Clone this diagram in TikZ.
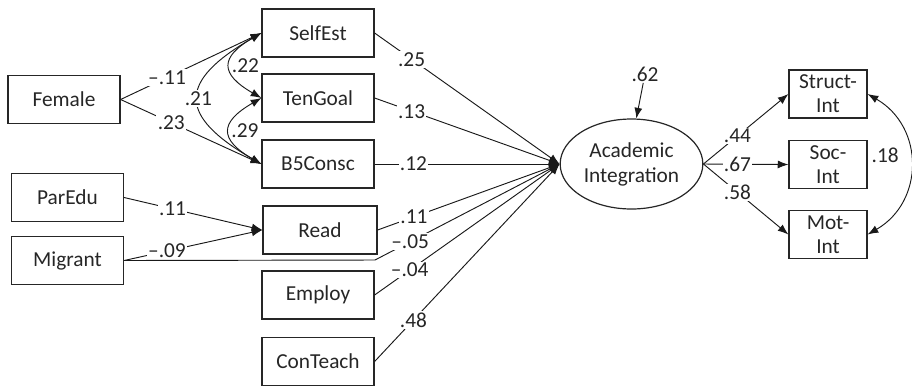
\documentclass[tikz,border=0pt]{standalone}
\usepackage{fontspec}
\setmainfont{Carlito}
\usetikzlibrary{arrows.meta,shapes.geometric}
\begin{document}
\begin{tikzpicture}[x=0.75pt,y=0.75pt,
  every node/.style={text=black!85},
  font=\fontsize{16}{18}\selectfont,
  box/.style={draw=black!85, line width=0.9pt, minimum height=36pt, inner sep=1pt, align=center},
  wbox/.style={box, minimum width=84pt},
  nbox/.style={box, minimum width=58.5pt},
  lat/.style={ellipse, draw=black!85, line width=0.9pt, minimum width=107pt, minimum height=67.5pt, inner sep=0pt, align=center, font=\fontsize{16}{18.75}\selectfont},
  conn/.style={draw=black!90, line width=0.7pt, -{Latex[length=8pt,width=6pt]}},
  corr/.style={draw=black!90, line width=0.7pt, {Latex[length=8pt,width=6pt]}-{Latex[length=8pt,width=6pt]}},
  lab/.style={fill=white, inner sep=1pt}
]
\useasboundingbox (0,0) rectangle (912,-387);

% exogenous boxes
\node[wbox] (fem)  at (64,-99.5)   {Female};
\node[wbox] (par)  at (67.5,-197.5) {ParEdu};
\node[wbox] (mig)  at (67.5,-260.5) {Migrant};

% mediators / predictors
\node[wbox] (self) at (318,-33)    {SelfEst};
\node[wbox] (ten)  at (318,-98)    {TenGoal};
\node[wbox] (b5)   at (318,-164)   {B5Consc};
\node[wbox, minimum width=85.5pt] (read) at (320,-230) {Read};
\node[wbox] (emp)  at (318,-295)   {Employ};
\node[wbox] (con)  at (318,-361.5) {ConTeach};

% latent
\node[lat] (acad) at (631.5,-164) {Academic\\Integration};
\node[inner sep=1pt] (r62) at (645,-74) {.62};

% outcomes
\node[nbox] (si) at (828,-94)    {Struct-\\Int};
\node[nbox] (so) at (828,-164.5) {Soc-\\Int};
\node[nbox] (mi) at (828,-234.5) {Mot-\\Int};

% Female paths
\draw[conn] (fem.east) -- node[lab,pos=.33]{–.11} (self.west);
\draw[conn] (fem.east) -- node[lab,pos=.36]{.23} (b5.west);

% correlations among mediators
\draw[corr] (self.west) to[out=210,in=150,looseness=1.9] node[pos=.5,anchor=west,inner sep=1pt]{.22} (ten.west);
\draw[corr] (ten.west) to[out=210,in=150,looseness=1.9] node[pos=.5,anchor=west,inner sep=1pt]{.29} (b5.west);
\draw[corr] (self.west) to[out=210,in=150,looseness=1.9] node[lab,pos=.5]{.21} (b5.west);

% Read predictors
\draw[conn] (par.east) -- node[lab,pos=.35]{.11} (read.west);
\draw[conn] (mig.east) -- node[lab,pos=.31]{–.09} (read.west);

% paths to Academic Integration
\draw[conn] (self.east) -- node[lab,pos=.2]{.25} (acad.west);
\draw[conn] (ten.east)  -- node[lab,pos=.2]{.13} (acad.west);
\draw[conn] (b5.east)   -- node[lab,pos=.21]{.12} (acad.west);
\draw[conn] (read.east) -- node[lab,pos=.2]{.11} (acad.west);
\coordinate (mb) at (375,-260);
\draw[conn] (mig.east) -- (mb) -- node[lab,pos=.19]{–.05} (acad.west);
\draw[conn] (emp.east)  -- node[lab,pos=.19]{–.04} (acad.west);
\draw[conn] (con.east)  -- node[lab,pos=.21]{.48} (acad.west);

% residual
\draw[conn] (r62) -- (acad.84);

% outcome paths
\draw[conn] (acad.east) -- node[lab,pos=.4]{.44} (si.west);
\draw[conn] (acad.east) -- node[lab,pos=.4]{.67} (so.west);
\draw[conn] (acad.east) -- node[lab,pos=.4]{.58} (mi.west);

% outcome correlation
\draw[corr] (si.east) to[out=-30,in=30,looseness=1.2] node[pos=.5,left=5pt,yshift=7pt]{.18} (mi.east);
\end{tikzpicture}
\end{document}
